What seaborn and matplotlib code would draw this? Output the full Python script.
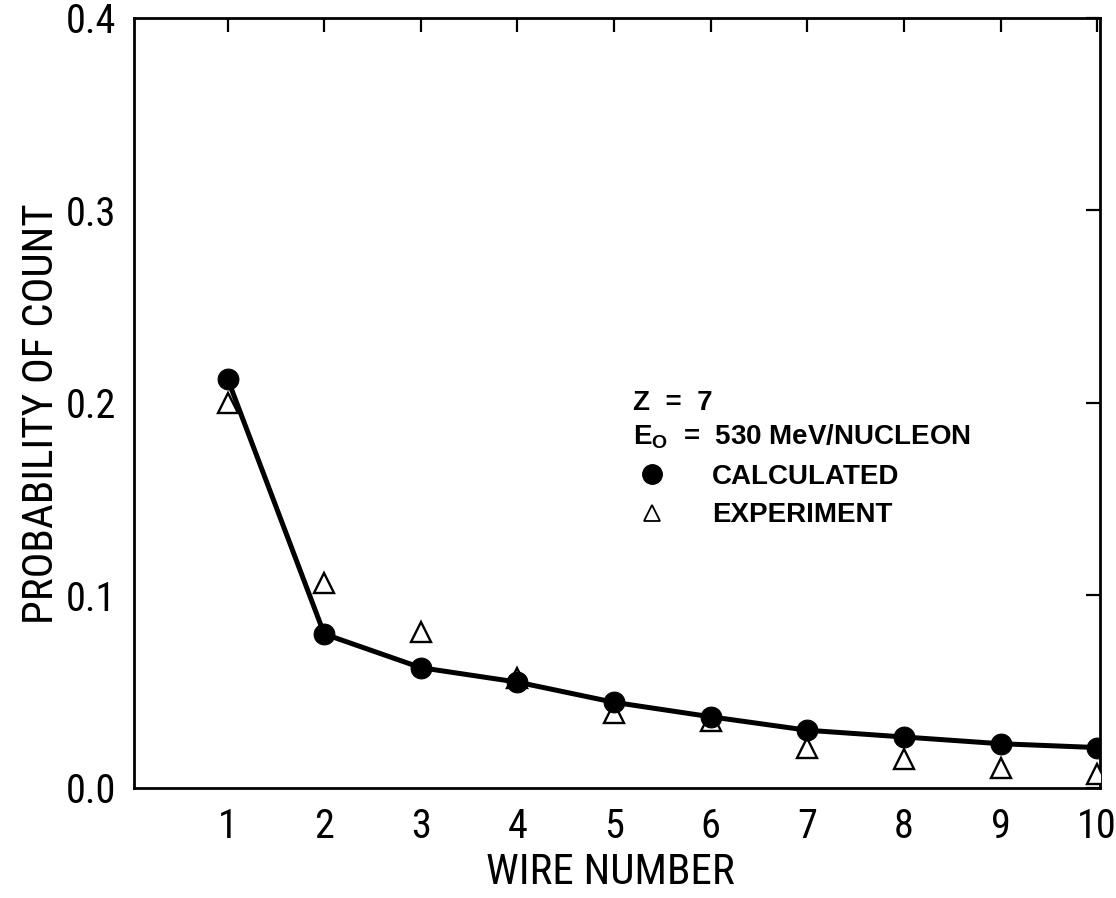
"""
Wire chamber count probability: calculated vs experiment (Z = 7, 530 MeV/nucleon).
"""

import matplotlib
matplotlib.use("Agg")
import matplotlib.pyplot as plt
from matplotlib.lines import Line2D
import pandas as pd
import seaborn as sns

# data
wire_number = [1, 2, 3, 4, 5, 6, 7, 8, 9, 10]
calculated = [0.2125, 0.080, 0.0625, 0.055, 0.0445, 0.037, 0.030, 0.0265, 0.023, 0.021]
experiment = [0.200, 0.1065, 0.081, 0.057, 0.039, 0.035, 0.021, 0.015, 0.0105, 0.0075]

y_ticks = [0.0, 0.1, 0.2, 0.3, 0.4]
y_tick_labels = ["0.0", "0.1", "0.2", "0.3", "0.4"]
x_ticks = wire_number

df = pd.DataFrame({"wire": wire_number, "calc": calculated, "exp": experiment})

sns.set_theme(style="white")
plt.rcParams["font.family"] = ["Roboto Condensed", "DejaVu Sans"]
plt.rcParams["font.stretch"] = "condensed"
plt.rcParams["text.color"] = "black"

legend_font = {"family": ["Liberation Sans", "DejaVu Sans"], "weight": "bold",
               "size": 20, "stretch": "normal"}

fig = plt.figure(figsize=(11.16, 8.98), dpi=100)
ax = fig.add_axes([0.12, 0.1225, 0.8657, 0.8575])

# experiment first so the calculated dots sit on top
sns.lineplot(data=df, x="wire", y="exp", ax=ax, linestyle="none", marker="^",
             markersize=14, markerfacecolor="white", markeredgecolor="black",
             markeredgewidth=1.7, color="black", zorder=3)
sns.lineplot(data=df, x="wire", y="calc", ax=ax, color="black", linewidth=3.6,
             marker="o", markersize=15, markeredgecolor="black", zorder=4)

ax.set_xlim(0.03, 10.03)
ax.set_ylim(0, 0.4)
ax.set_xticks(x_ticks)
ax.set_xticklabels([str(v) for v in x_ticks])
ax.set_yticks(y_ticks)
ax.set_yticklabels(y_tick_labels)

for s in ax.spines.values():
    s.set_color("black")
    s.set_linewidth(2.0)

ax.tick_params(axis="both", direction="in", length=10, width=1.6, colors="black",
               top=True, right=True, labelsize=29, pad=13)
ax.tick_params(axis="x", pad=14)

ax.set_xlabel("WIRE NUMBER", fontsize=31, color="black")
ax.set_ylabel("PROBABILITY OF COUNT", fontsize=31, color="black")
ax.xaxis.set_label_coords(0.493, -0.083)
ax.yaxis.set_label_coords(-0.074, 0.486)

# legend block with two header lines
handles = [
    Line2D([], [], linestyle="none", marker="o", markersize=14, color="black"),
    Line2D([], [], linestyle="none", marker="^", markersize=12, markerfacecolor="white",
           markeredgecolor="black", markeredgewidth=1.3),
]
leg = ax.legend(handles, ["CALCULATED", "EXPERIMENT"],
                title="Z  =  7\nE$_\\mathregular{O}$  =  530 MeV/NUCLEON",
                loc="upper left", bbox_to_anchor=(0.502, 0.535), frameon=False,
                prop=legend_font, handletextpad=1.45, labelspacing=0.45,
                alignment="left", borderpad=0, handlelength=1.4,
                labelcolor="black")
leg.get_title().set_fontproperties(legend_font)
leg.get_title().set_color("black")
leg.get_title().set_linespacing(1.3)

fig.savefig("out.png", dpi=100, facecolor="white")
